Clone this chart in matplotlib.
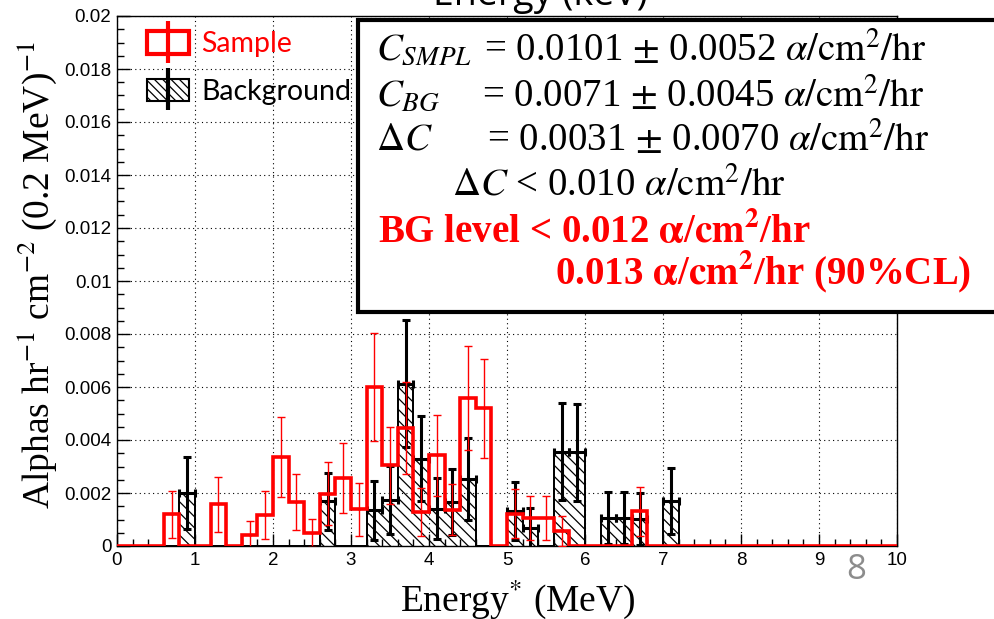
import matplotlib
matplotlib.use("Agg")
import matplotlib.pyplot as plt
from matplotlib.patches import Patch, Rectangle
from matplotlib.lines import Line2D
from matplotlib.legend_handler import HandlerTuple
import numpy as np

plt.rcParams['mathtext.fontset'] = 'stix'
plt.rcParams['hatch.linewidth'] = 0.9

# bins of 0.2 MeV from 0 to 10 MeV
edges = np.linspace(0, 10, 51)

# values in units of 1e-3 alphas/hr/cm2/(0.2 MeV), read bin by bin
sample = [0, 0, 0, 1.20, 0, 0, 1.57, 0, 0.43, 1.18,
          3.36, 1.66, 0.49, 1.97, 2.57, 1.38, 6.00, 3.04, 4.45, 1.28,
          3.42, 1.37, 5.58, 5.20, 0, 1.22, 1.05, 1.05, 0.58, 0,
          0, 0, 0, 1.31, 0, 0, 0, 0, 0, 0,
          0, 0, 0, 0, 0, 0, 0, 0, 0, 0]
sample_err = [0, 0, 0, 0.88, 0, 0, 1.03, 0, 0.53, 0.90,
              1.51, 1.07, 0.53, 1.19, 1.31, 0.99, 2.03, 1.45, 1.73, 0.92,
              1.53, 0.97, 1.95, 1.87, 0, 0.93, 0.82, 0.84, 0.57, 0,
              0, 0, 0, 0.93, 0, 0, 0, 0, 0, 0,
              0, 0, 0, 0, 0, 0, 0, 0, 0, 0]
background = [0, 0, 0, 0, 2.00, 0, 0, 0, 0, 0,
              0, 0, 0, 1.69, 0, 0, 1.35, 1.75, 6.13, 3.30,
              1.41, 1.66, 2.54, 0, 0, 1.33, 0.67, 0, 3.56, 3.53,
              0, 1.06, 1.06, 1.03, 0, 1.70, 0, 0, 0, 0,
              0, 0, 0, 0, 0, 0, 0, 0, 0, 0]
background_err = [0, 0, 0, 0, 1.37, 0, 0, 0, 0, 0,
                  0, 0, 0, 1.07, 0, 0, 1.11, 1.28, 2.39, 1.62,
                  1.16, 1.26, 1.55, 0, 0, 1.10, 0.75, 0, 1.84, 1.82,
                  0, 0.98, 0.98, 0.98, 0, 1.25, 0, 0, 0, 0,
                  0, 0, 0, 0, 0, 0, 0, 0, 0, 0]

x_ticks = [0, 1, 2, 3, 4, 5, 6, 7, 8, 9, 10]
y_ticks = [0, 0.002, 0.004, 0.006, 0.008, 0.01, 0.012, 0.014, 0.016, 0.018, 0.02]
y_ticklabels = ['0', '0.002', '0.004', '0.006', '0.008', '0.01',
                '0.012', '0.014', '0.016', '0.018', '0.02']

# convert to real units
sample = np.array(sample) * 1e-3
sample_err = np.array(sample_err) * 1e-3
background = np.array(background) * 1e-3
background_err = np.array(background_err) * 1e-3
centers = 0.5 * (edges[:-1] + edges[1:])

fig = plt.figure(figsize=(9.94, 6.19), dpi=100, facecolor='white')
ax = fig.add_axes([117 / 994, 73 / 619, 780 / 994, 530 / 619])

# background: hatched histogram
ax.stairs(background, edges, fill=True, facecolor='none', edgecolor='black',
          hatch='\\\\\\', linewidth=1.3, zorder=2)
ax.stairs(background, edges, color='black', linewidth=1.3, zorder=2)
nz = background > 0
ax.errorbar(centers[nz], background[nz], yerr=background_err[nz], xerr=0.1,
            fmt='none', ecolor='black', elinewidth=2.2, capsize=3, capthick=2.2,
            zorder=3)

# sample: red open histogram
ax.stairs(sample, edges, color='red', linewidth=2.6, zorder=4)
nz = sample > 0
ax.errorbar(centers[nz], sample[nz], yerr=sample_err[nz],
            fmt='.', color='red', ms=2, elinewidth=1.0, capsize=3, capthick=1.0,
            zorder=5)

ax.set_xlim(0, 10)
ax.set_ylim(0, 0.02)
ax.set_xticks(x_ticks)
ax.set_xticklabels([str(t) for t in x_ticks])
ax.set_yticks(y_ticks)
ax.set_yticklabels(y_ticklabels)
ax.set_xticks(np.arange(0, 10.01, 0.2), minor=True)
ax.set_yticks(np.arange(0, 0.02001, 0.0005), minor=True)
ax.tick_params(which='both', direction='in', top=False, right=False,
               labelsize=13.5, pad=4)
ax.tick_params(which='major', length=9, width=1)
ax.tick_params(which='minor', length=5, width=1)
for lab in ax.get_xticklabels() + ax.get_yticklabels():
    lab.set_family('Liberation Sans')
ax.grid(True, which='major', color='black', linestyle=(0, (1, 3)), linewidth=0.8)
for s in ax.spines.values():
    s.set_linewidth(1)

ax.set_xlabel(r'Energy$^{*}$ (MeV)', family='Liberation Serif', fontsize=27,
              labelpad=6, x=0.514)
ax.set_ylabel(r'Alphas hr$^{-1}$ cm$^{-2}$ (0.2 MeV)$^{-1}$',
              family='Liberation Serif', fontsize=27, labelpad=4, y=0.51)

# legend
h_sample = (Patch(facecolor='white', edgecolor='red', linewidth=3),
            Line2D([], [], color='red', marker='|', ms=30, mew=3, ls='none'))
h_bg = (Patch(facecolor='white', edgecolor='black', hatch='\\\\\\\\', linewidth=1.5),
        Line2D([], [], color='black', marker='|', ms=30, mew=3, ls='none'))
leg = ax.legend([h_sample, h_bg], ['Sample', 'Background'],
                handler_map={tuple: HandlerTuple(ndivide=1)},
                loc='upper left', bbox_to_anchor=(0.006, 1.02), frameon=False,
                prop={'family': 'Lato', 'size': 20.5}, handlelength=1.45,
                handleheight=0.85, labelspacing=0.75, handletextpad=0.45)
leg.get_texts()[0].set_color('red')

# result box
fig.patches.append(Rectangle((358 / 994, (619 - 312) / 619), 700 / 994, 292 / 619,
                             transform=fig.transFigure, facecolor='white',
                             edgecolor='black', linewidth=3, zorder=10))
tk = dict(family='Liberation Serif', fontsize=28, va='center', ha='left', zorder=11)
unit = r'$\alpha/\mathrm{cm}^2/\mathrm{hr}$'
fig.text(376 / 994, 1 - 50 / 619, r'$C_{SMPL}$', **tk)
fig.text(484 / 994, 1 - 50 / 619, r'= 0.0101 $\pm$ 0.0052 ' + unit, **tk)
fig.text(376 / 994, 1 - 96 / 619, r'$C_{BG}$', **tk)
fig.text(482 / 994, 1 - 96 / 619, r'= 0.0071 $\pm$ 0.0045 ' + unit, **tk)
fig.text(376 / 994, 1 - 140 / 619, r'$\Delta C$', **tk)
fig.text(487 / 994, 1 - 140 / 619, r'= 0.0031 $\pm$ 0.0070 ' + unit, **tk)
fig.text(452 / 994, 1 - 186 / 619, r'$\Delta C$ < 0.010 ' + unit, **tk)
bunit = r'$\mathbf{\alpha}/\mathbf{cm^2}$/hr'
fig.text(378 / 994, 1 - 232 / 619, 'BG level < 0.012 ' + bunit, color='red',
         fontweight='bold', **tk)
fig.text(555 / 994, 1 - 272 / 619, '0.013 ' + bunit + ' (90%CL)', color='red',
         fontweight='bold', **tk)

# slide leftovers
fig.text(540 / 994, 1 - 5 / 619, 'Energy (keV)', family='Open Sans', fontsize=27,
         ha='center', va='baseline')
fig.text(856 / 994, 1 - 570 / 619, '8', color='#8c8c8c', family='Open Sans',
         fontsize=25, ha='center', va='center')

fig.savefig('out.png', dpi=100)
